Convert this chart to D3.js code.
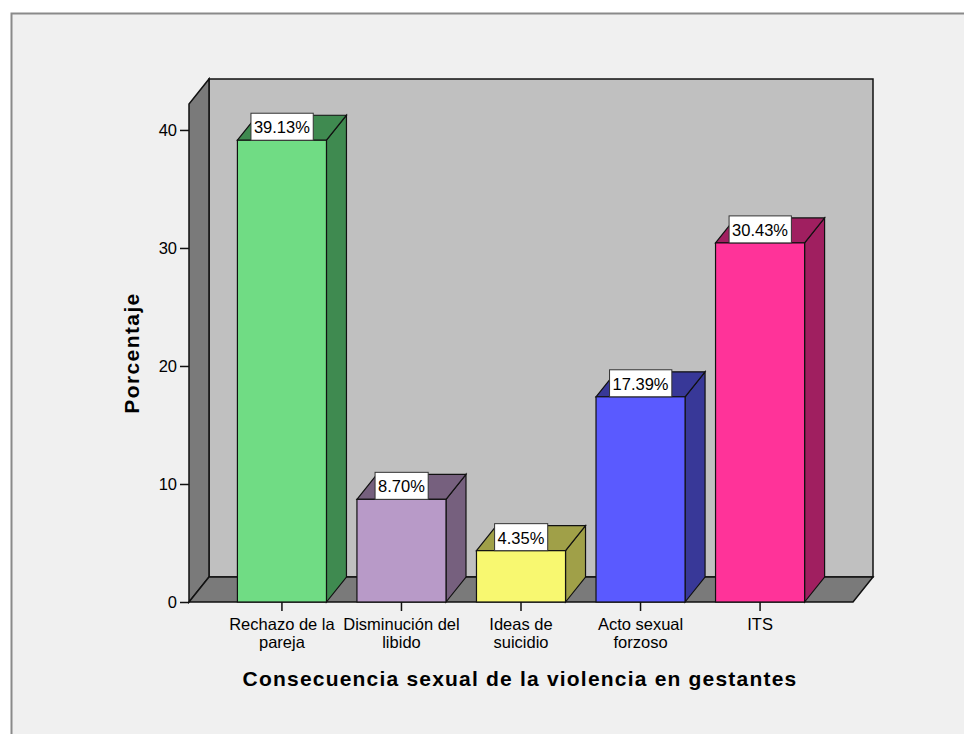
<!DOCTYPE html>
<html>
<head>
<meta charset="utf-8">
<script src="https://cdn.jsdelivr.net/npm/d3@7"></script>
<style>
	body { margin:0; background:#fff; }
	svg text { font-family:"Liberation Sans", Arial, sans-serif; fill:#000; }
</style>
</head>
<body>
<svg id="chart" width="964" height="734"></svg>
<script>

//------------------------------------------------------------------
// data
//------------------------------------------------------------------
var categories	= ['Rechazo de la|pareja', 'Disminución del|libido', 'Ideas de|suicidio', 'Acto sexual|forzoso', 'ITS'];
var values		= [39.13, 8.70, 4.35, 17.39, 30.43];
var barLabels	= ['39.13%', '8.70%', '4.35%', '17.39%', '30.43%'];
var yTickVals	= [0, 10, 20, 30, 40];
var frontColors	= ['#70dc84', '#b89ac8', '#f8f870', '#5a5aff', '#ff3399'];
var sideColors	= ['#3f8a50', '#76607e', '#a0a048', '#383898', '#a01f60'];


//------------------------------------------------------------------
//
//------------------------------------------------------------------
function drawChart()	{

	var svg	= d3.select('#chart'),
			x0	= 189, x1 = 853,
			y0	= 602,
			dx	= 20, dy = 25,
			data = categories.map((c,i)=>({ cat:c, val:values[i], lbl:barLabels[i], i:i }));

	var x = d3.scaleBand().domain(categories).range([x0, x1]).paddingInner(0.255).paddingOuter(0.405);
	var y = d3.scaleLinear().domain([0, 42.2]).range([y0, 104]);
	var yTop = y(42.2);

	// frame
	svg.append('rect')
		.attr('x', 11.5).attr('y', 13.5).attr('width', 970).attr('height', 740)
		.attr('fill', '#f0f0f0').attr('stroke', '#8a8a8a').attr('stroke-width', 2);

	// walls + floor
	svg.append('g').attr('class', 'walls')
		.call(sel=>{
			sel.append('rect')
				.attr('x', x0+dx).attr('y', yTop-dy).attr('width', x1-x0).attr('height', y0-yTop)
				.attr('fill', '#c0c0c0').attr('stroke', '#111').attr('stroke-width', 1.5);
			sel.append('path')
				.attr('d', `M${x0},${y0}L${x0},${yTop}L${x0+dx},${yTop-dy}L${x0+dx},${y0-dy}Z`)
				.attr('fill', '#7a7a7a').attr('stroke', '#111').attr('stroke-width', 1.5);
			sel.append('path')
				.attr('d', `M${x0},${y0}L${x1},${y0}L${x1+dx},${y0-dy}L${x0+dx},${y0-dy}Z`)
				.attr('fill', '#7a7a7a').attr('stroke', '#111').attr('stroke-width', 1.5);
		});

	// bars
	var bw = x.bandwidth();
	var bar = svg.append('g').attr('class', 'bars').selectAll('.bar').data(data).enter()
		.append('g').attr('class', 'bar');

	bar.append('path')	// side
		.attr('d', d=>{ var a = x(d.cat)+bw, t = y(d.val); return `M${a},${y0}L${a+dx},${y0-dy}L${a+dx},${t-dy}L${a},${t}Z`; })
		.attr('fill', d=>sideColors[d.i]).attr('stroke', '#111').attr('stroke-width', 1.2);
	bar.append('path')	// top
		.attr('d', d=>{ var a = x(d.cat), t = y(d.val); return `M${a},${t}L${a+dx},${t-dy}L${a+bw+dx},${t-dy}L${a+bw},${t}Z`; })
		.attr('fill', d=>sideColors[d.i]).attr('stroke', '#111').attr('stroke-width', 1.2);
	bar.append('rect')	// front
		.attr('x', d=>x(d.cat)).attr('y', d=>y(d.val))
		.attr('width', bw).attr('height', d=>y0-y(d.val))
		.attr('fill', d=>frontColors[d.i]).attr('stroke', '#111').attr('stroke-width', 1.2);

	// value labels
	bar.append('text')
		.attr('class', 'vlbl')
		.attr('x', d=>x(d.cat)+bw/2).attr('y', d=>y(d.val)-7)
		.attr('text-anchor', 'middle').attr('font-size', 16.5)
		.text(d=>d.lbl)
		.each(function(d){
			var b = this.getBBox();
			d3.select(this.parentNode).insert('rect', '.vlbl')
				.attr('x', b.x-3).attr('y', y(d.val)-27)
				.attr('width', b.width+6).attr('height', 27)
				.attr('fill', '#fff').attr('stroke', '#333').attr('stroke-width', 1);
		});

	// y axis
	svg.append('g')
		.attr('transform', `translate(${x0},0)`)
		.call(d3.axisLeft(y).tickValues(yTickVals).tickSize(9).tickPadding(3))
		.call(g=>{
			g.select('.domain').remove();
			g.selectAll('.tick line').attr('stroke', '#111').attr('stroke-width', 1.5);
			g.selectAll('.tick text').attr('font-size', 16.5).attr('font-family', '"Liberation Sans", Arial, sans-serif').attr('fill', '#111');
		});

	// x axis: two-line category labels
	svg.append('g')
		.attr('transform', `translate(0,${y0})`)
		.call(d3.axisBottom(x).tickSize(9).tickFormat(''))
		.call(g=>{
			g.select('.domain').remove();
			g.selectAll('.tick line').attr('stroke', '#111').attr('stroke-width', 1.5);
			g.selectAll('.tick text').remove();
			g.selectAll('.tick').each(function(d){
				d3.select(this).selectAll('text.cl').data(d.split('|')).enter()
					.append('text')
						.attr('class', 'cl')
						.attr('text-anchor', 'middle').attr('font-size', 16.5)
						.attr('font-family', '"Liberation Sans", Arial, sans-serif').attr('fill', '#111')
						.attr('x', 0).attr('y', (t,i)=>28+i*18)
						.text(t=>t);
			});
		});

	// titles
	svg.append('text')
		.attr('transform', 'translate(139,353) rotate(-90)')
		.attr('text-anchor', 'middle').attr('font-size', 21).attr('font-weight', 'bold')
		.attr('letter-spacing', 1.4)
		.text('Porcentaje');

	svg.append('text')
		.attr('x', 520).attr('y', 686)
		.attr('text-anchor', 'middle').attr('font-size', 21).attr('font-weight', 'bold')
		.attr('letter-spacing', 1.2)
		.text('Consecuencia sexual de la violencia en gestantes');
}

drawChart();

</script>
</body>
</html>
